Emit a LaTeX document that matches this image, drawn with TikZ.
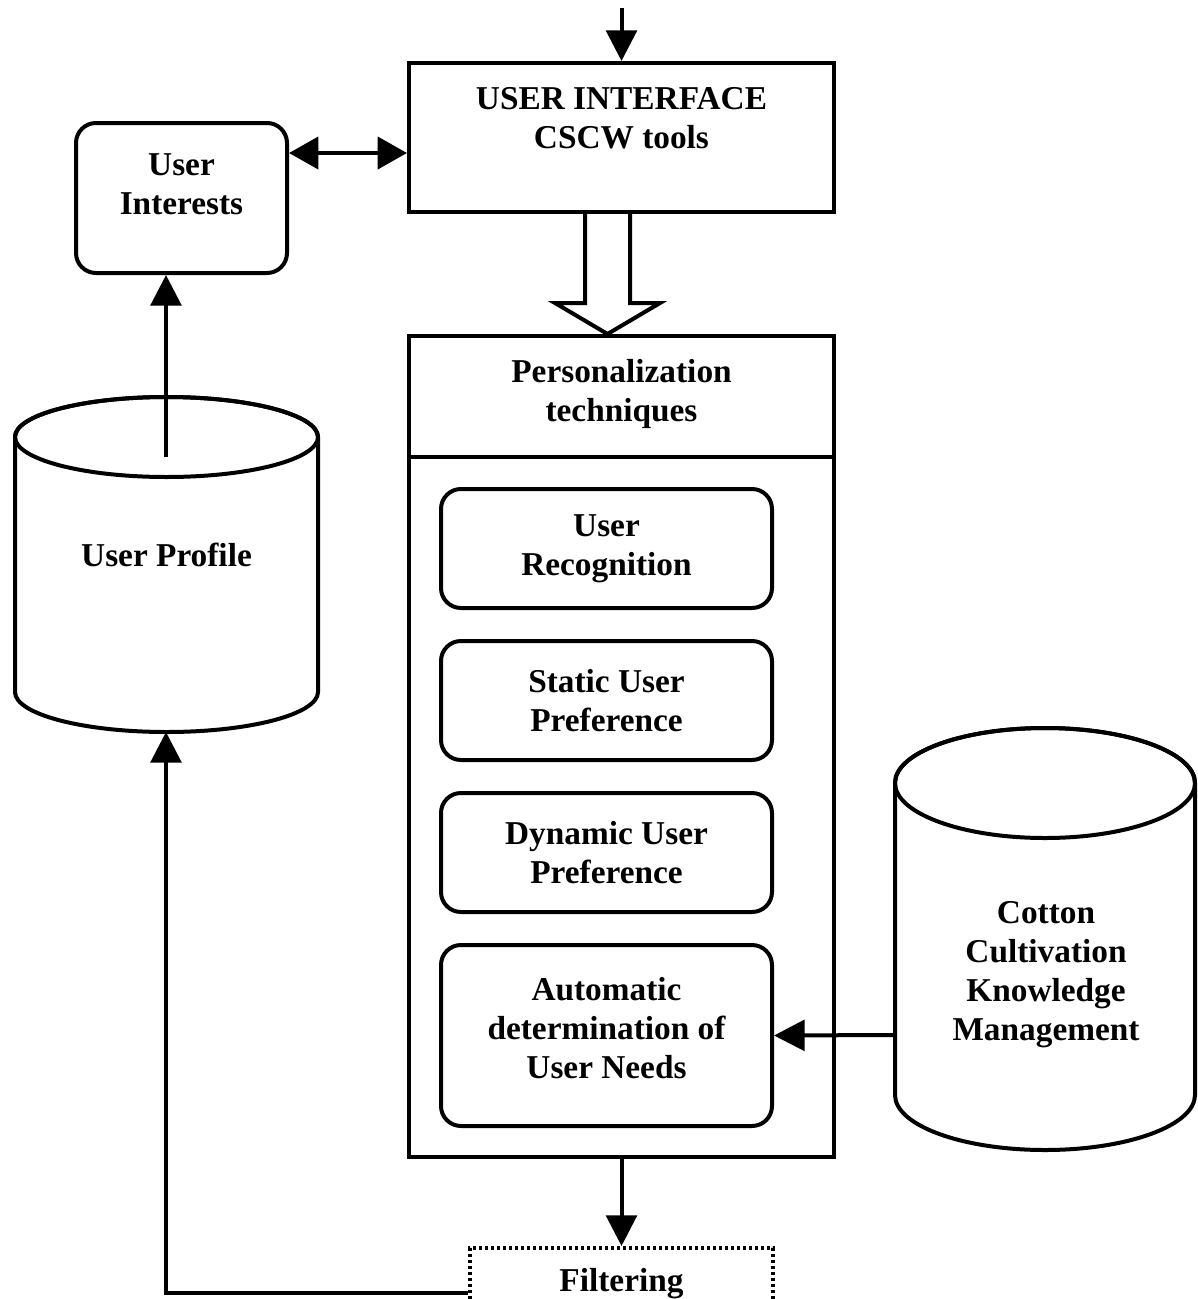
\documentclass[tikz,border=0pt]{standalone}
\usepackage{fontspec}
\setmainfont{Liberation Serif}
\usetikzlibrary{arrows.meta}

\tikzset{every picture/.style={line width=3pt}}
\tikzset{
  lbl/.style={font=\bfseries\fontsize{25}{29.25}\selectfont, align=center, inner sep=0pt},
  sqbox/.style={draw, rectangle, inner sep=0pt},
  rbox/.style={draw, rectangle, rounded corners=15pt, inner sep=0pt, lbl, minimum width=331*0.75pt},
  dotbox/.style={draw, rectangle, inner sep=0pt, dash pattern=on 2.5pt off 2pt},
  arr/.style={-{Triangle[length=23pt,width=23pt]}},
  dblarr/.style={{Triangle[length=22pt,width=24pt]}-{Triangle[length=22pt,width=24pt]}},
}

\begin{document}
\begin{tikzpicture}[x=0.75pt,y=0.75pt,yscale=-1,xscale=1]
\useasboundingbox (0,0) rectangle (1197,1299);

%Shape: Can [user profile]
\draw[fill=white] (15,437) -- (15,692) arc[start angle=180,end angle=0,x radius=151.5,y radius=40] -- (318,437) arc[start angle=0,end angle=-180,x radius=151.5,y radius=40] -- cycle;
\draw (166.5,437) ellipse [x radius=151.5, y radius=40];
\coordinate (profileTop) at (166,457);
\coordinate (profileBottom) at (166,732);
% Text Node
\node[lbl] (profile) at (166.5,555) {User Profile};

%Shape: Can [cotton knowledge]
\draw[fill=white] (895,783) -- (895,1095) arc[start angle=180,end angle=0,x radius=150,y radius=55] -- (1195,783) arc[start angle=0,end angle=-180,x radius=150,y radius=55] -- cycle;
\draw (1045,783) ellipse [x radius=150, y radius=55];
\coordinate (cottonLeft) at (895,1035);
% Text Node
\node[lbl] (cotton) at (1046,975) {Cotton\\Cultivation\\Knowledge\\Management};

%Shape: Rectangle [user interface]
\node[sqbox, minimum width=425*0.75pt, minimum height=149*0.75pt] (ui) at (621.5,137.5) {};
% Text Node
\node[lbl] (uiText) at (621.5,118) {USER INTERFACE\\CSCW tools};

%Shape: Rounded Rectangle [user interests]
\node[rbox, minimum width=211*0.75pt, minimum height=150*0.75pt] (interests) at (181.5,198) {};
% Text Node
\node[lbl] (interestsText) at (181.5,184) {User\\Interests};

%Shape: Rectangle [personalization]
\node[sqbox, minimum width=425*0.75pt, minimum height=821*0.75pt] (pers) at (621.5,746.5) {};
\coordinate (persDiv) at (410,457);
\draw (persDiv) -- (persDiv -| pers.east);
% Text Node
\node[lbl] (persText) at (621.5,394) {Personalization\\techniques};

%Shape: Rounded Rectangles [techniques]
\node[rbox, minimum height=119*0.75pt] (recog) at (606.5,548.5) {User\\Recognition};
\node[rbox, minimum height=119*0.75pt] (static) at (606.5,700.5) {Static User\\Preference};
\node[rbox, minimum height=119*0.75pt] (dynamic) at (606.5,852.5) {Dynamic User\\Preference};
\node[rbox, minimum height=181*0.75pt] (auto) at (606.5,1035.5) {};
% Text Node
\node[lbl] (autoText) at (606.5,1028) {Automatic\\determination of\\User Needs};

%Shape: Dotted Rectangle [filtering]
\node[dotbox, minimum width=303*0.75pt, minimum height=90*0.75pt] (filter) at (621.5,1293) {};
% Text Node
\node[lbl] (filterText) at (621.5,1284) {Filtering};

%Shape: Hollow Arrow
\draw[fill=white, line join=miter] (585,214) -- (585,303) -- (555,303) -- (607.5,334) -- (660,303) -- (630,303) -- (630,214);

% Connectors
\coordinate (entry) at (621.5,8);
\draw[arr] (entry) -- (ui.north);
\coordinate (biLeft) at ([yshift=-33.75pt]interests.east);
\draw[dblarr] (biLeft) -- (biLeft -| ui.west);
\draw[arr] (profileTop) -- (profileTop |- interests.south);
\draw[arr] (cottonLeft) -- (auto.east);
\draw[arr] (pers.south) -- (filter.north);
\draw[arr] (filter.west) -| (profileBottom);

\end{tikzpicture}
\end{document}
